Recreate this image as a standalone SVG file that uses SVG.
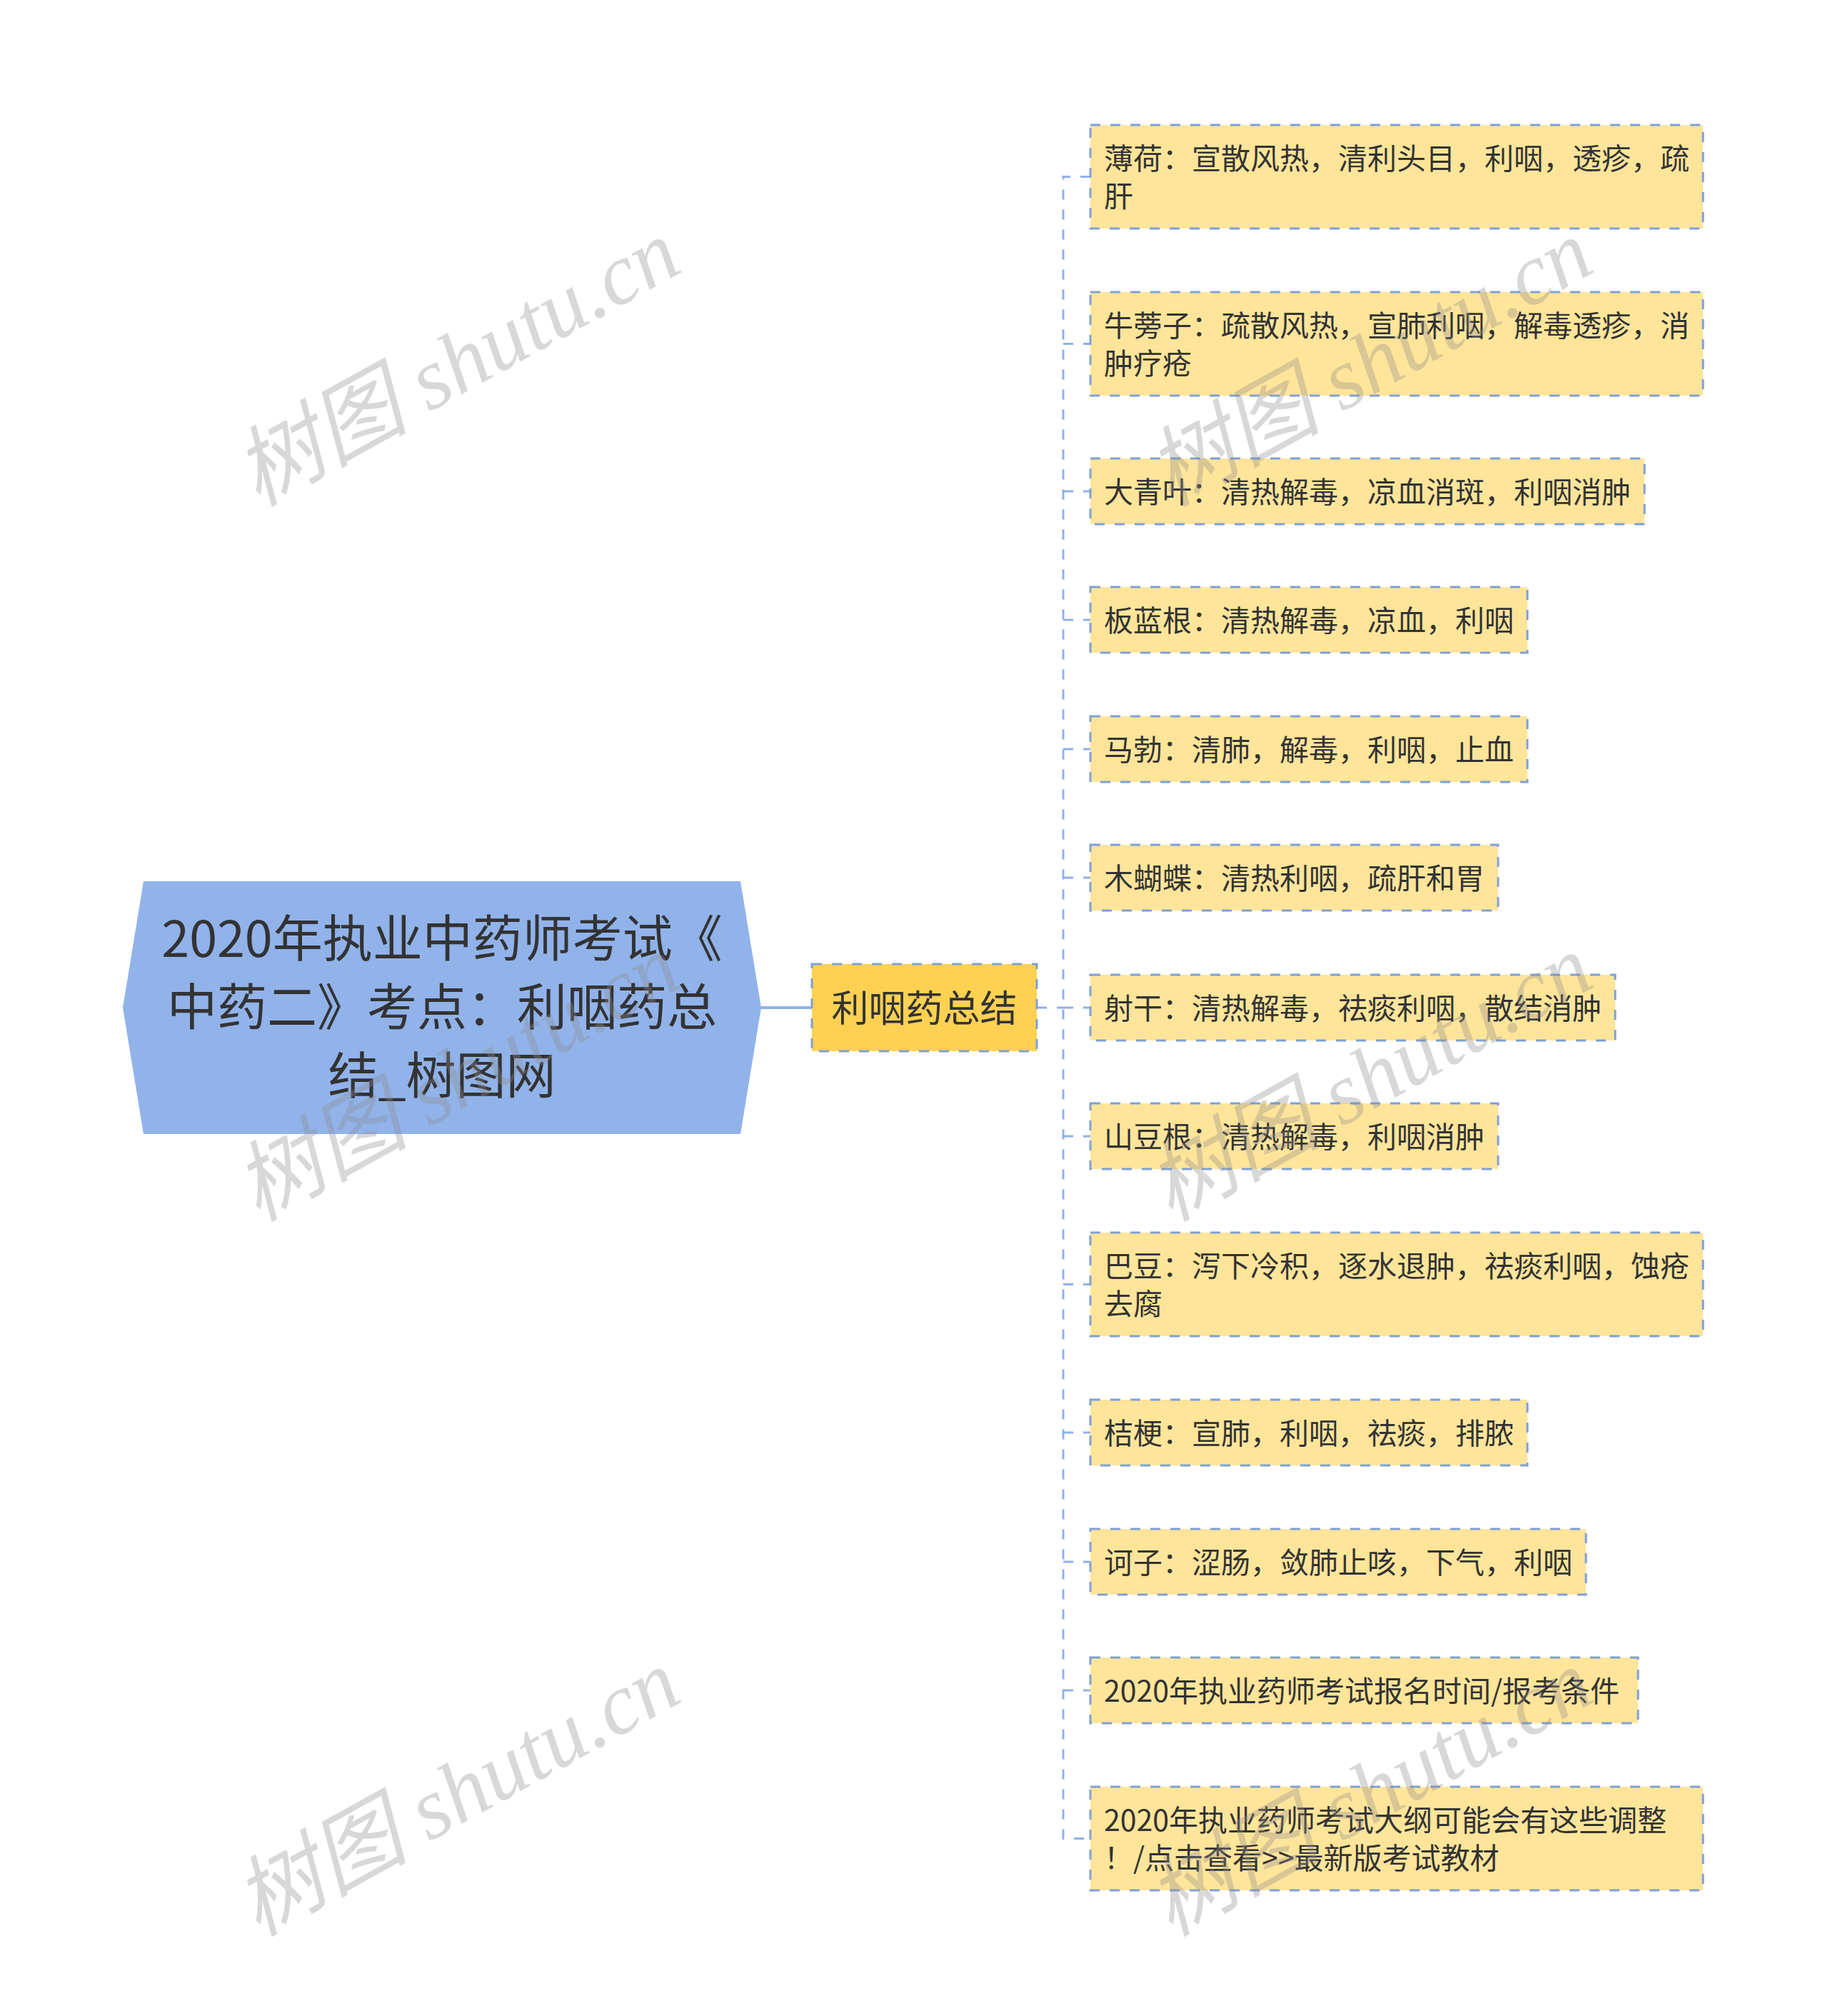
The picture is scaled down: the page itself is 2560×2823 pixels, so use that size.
<svg xmlns="http://www.w3.org/2000/svg" width="2560" height="2823" viewBox="0 0 2560 2823">
<style>
text{font-family:"Noto Sans CJK SC","Noto Sans",sans-serif;fill:#333}
.root{fill:#91b3ea}
.rt{font-size:70px}
.mid{fill:#ffd152;stroke:#7fa0d6;stroke-width:3;stroke-dasharray:14 14}
.mt{font-size:52px}
.leaf{fill:#ffe59a;stroke:#7fa0d6;stroke-width:3;stroke-dasharray:14 14}
.lt{font-size:41px}
.solid{stroke:#8fb2e8;stroke-width:4;fill:none}
.dash{stroke:#8fb2e8;stroke-width:3;fill:none;stroke-dasharray:14 14}
.wm{font-family:"Liberation Serif","Noto Sans CJK SC",serif;font-style:italic;font-size:122px;fill:#8c8c8c;fill-opacity:0.34}
</style>
<rect width="2560" height="2823" fill="#fff"/>
<g id="connectors">
<path class="solid" d="M1066,1411 H1137"/>
<path class="dash" d="M1452,1411 H1489"/>
<path class="dash" d="M1527,247.5 H1489 V2574.5 H1527"/>
<path class="dash" d="M1489,481.5 H1527"/>
<path class="dash" d="M1489,688 H1527"/>
<path class="dash" d="M1489,868 H1527"/>
<path class="dash" d="M1489,1049 H1527"/>
<path class="dash" d="M1489,1229 H1527"/>
<path class="dash" d="M1489,1411 H1527"/>
<path class="dash" d="M1489,1591 H1527"/>
<path class="dash" d="M1489,1798.5 H1527"/>
<path class="dash" d="M1489,2006 H1527"/>
<path class="dash" d="M1489,2187 H1527"/>
<path class="dash" d="M1489,2367 H1527"/>
</g>
<g id="root">
<polygon class="root" points="172,1411 201,1234 1037,1234 1066,1411 1037,1588 201,1588"/>
<text class="rt" text-anchor="middle"><tspan x="619" y="1340">2020年执业中药师考试《</tspan><tspan x="619" y="1436">中药二》考点：利咽药总</tspan><tspan x="619" y="1532">结_树图网</tspan></text>
</g>
<g id="summary">
<rect class="mid" x="1137" y="1350" width="315" height="122"/>
<text class="mt" text-anchor="middle" x="1294.5" y="1431">利咽药总结</text>
</g>
<g id="n1">
<rect class="leaf" x="1527" y="175" width="858" height="145"/>
<text class="lt"><tspan x="1546" y="237">薄荷：宣散风热，清利头目，利咽，透疹，疏</tspan><tspan x="1546" y="290">肝</tspan></text>
</g>
<g id="n2">
<rect class="leaf" x="1527" y="409" width="858" height="145"/>
<text class="lt"><tspan x="1546" y="471">牛蒡子：疏散风热，宣肺利咽，解毒透疹，消</tspan><tspan x="1546" y="524">肿疗疮</tspan></text>
</g>
<g id="n3">
<rect class="leaf" x="1527" y="642" width="776" height="92"/>
<text class="lt" x="1546" y="703.5">大青叶：清热解毒，凉血消斑，利咽消肿</text>
</g>
<g id="n4">
<rect class="leaf" x="1527" y="822" width="612" height="92"/>
<text class="lt" x="1546" y="883.5">板蓝根：清热解毒，凉血，利咽</text>
</g>
<g id="n5">
<rect class="leaf" x="1527" y="1003" width="612" height="92"/>
<text class="lt" x="1546" y="1064.5">马勃：清肺，解毒，利咽，止血</text>
</g>
<g id="n6">
<rect class="leaf" x="1527" y="1183" width="571" height="92"/>
<text class="lt" x="1546" y="1244.5">木蝴蝶：清热利咽，疏肝和胃</text>
</g>
<g id="n7">
<rect class="leaf" x="1527" y="1365" width="735" height="92"/>
<text class="lt" x="1546" y="1426.5">射干：清热解毒，祛痰利咽，散结消肿</text>
</g>
<g id="n8">
<rect class="leaf" x="1527" y="1545" width="571" height="92"/>
<text class="lt" x="1546" y="1606.5">山豆根：清热解毒，利咽消肿</text>
</g>
<g id="n9">
<rect class="leaf" x="1527" y="1726" width="858" height="145"/>
<text class="lt"><tspan x="1546" y="1788">巴豆：泻下冷积，逐水退肿，祛痰利咽，蚀疮</tspan><tspan x="1546" y="1841">去腐</tspan></text>
</g>
<g id="n10">
<rect class="leaf" x="1527" y="1960" width="612" height="92"/>
<text class="lt" x="1546" y="2021.5">桔梗：宣肺，利咽，祛痰，排脓</text>
</g>
<g id="n11">
<rect class="leaf" x="1527" y="2141" width="694" height="92"/>
<text class="lt" x="1546" y="2202.5">诃子：涩肠，敛肺止咳，下气，利咽</text>
</g>
<g id="n12">
<rect class="leaf" x="1527" y="2321" width="767" height="92"/>
<text class="lt" x="1546" y="2382.5">2020年执业药师考试报名时间/报考条件</text>
</g>
<g id="n13">
<rect class="leaf" x="1527" y="2502" width="858" height="145"/>
<text class="lt"><tspan x="1546" y="2564">2020年执业药师考试大纲可能会有这些调整</tspan><tspan x="1546" y="2617">！/点击查看&gt;&gt;最新版考试教材</tspan></text>
</g>
<g id="watermarks">
<text class="wm" text-anchor="middle" dominant-baseline="central" transform="translate(640,508) rotate(-29)">树图 shutu.cn</text>
<text class="wm" text-anchor="middle" dominant-baseline="central" transform="translate(1918,508) rotate(-29)">树图 shutu.cn</text>
<text class="wm" text-anchor="middle" dominant-baseline="central" transform="translate(640,1509) rotate(-29)">树图 shutu.cn</text>
<text class="wm" text-anchor="middle" dominant-baseline="central" transform="translate(1918,1509) rotate(-29)">树图 shutu.cn</text>
<text class="wm" text-anchor="middle" dominant-baseline="central" transform="translate(640,2510) rotate(-29)">树图 shutu.cn</text>
<text class="wm" text-anchor="middle" dominant-baseline="central" transform="translate(1918,2510) rotate(-29)">树图 shutu.cn</text>
</g>
</svg>
